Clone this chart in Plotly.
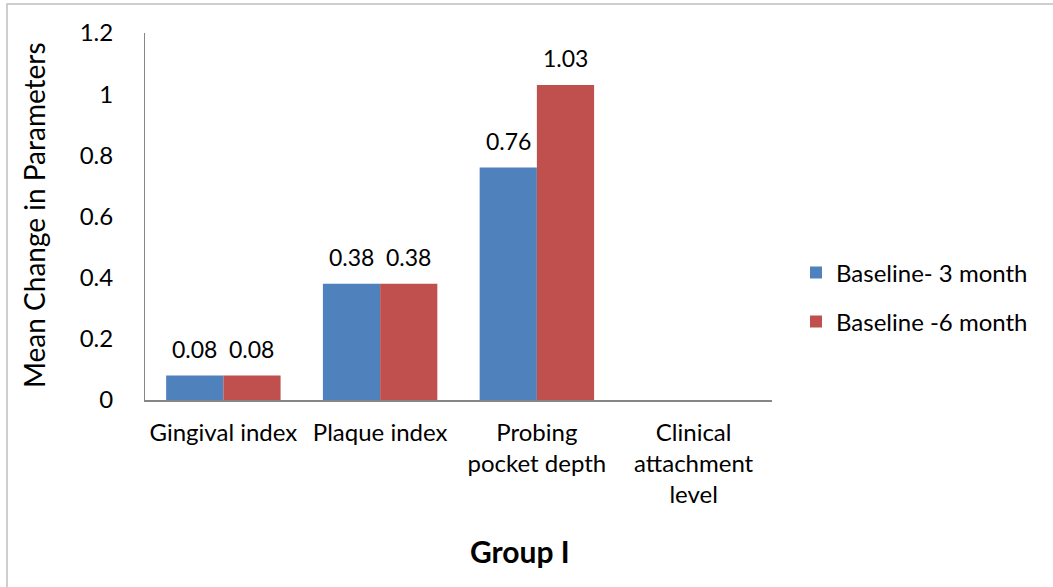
import plotly.graph_objects as go

categories = ["Gingival index", "Plaque index", "Probing<br>pocket depth", "Clinical<br>attachment<br>level"]
series_names = ["Baseline- 3 month", "Baseline -6 month"]
values_3m = [0.08, 0.38, 0.76, None]
values_6m = [0.08, 0.38, 1.03, None]
y_ticks = [0, 0.2, 0.4, 0.6, 0.8, 1, 1.2]
y_tick_labels = ["0", "0.2", "0.4", "0.6", "0.8", "1", "1.2"]
colors = ["#4F81BD", "#C0504D"]

FONT = "Lato, 'Open Sans', sans-serif"
W, H = 1053, 587
L, R, T, B = 145, 772, 33, 400
BARGAP = 0.27

def fmt(v):
    return "" if v is None else f"{v:.2f}"

fig = go.Figure()
all_vals = [values_3m, values_6m]
for i, (name, vals) in enumerate(zip(series_names, all_vals)):
    fig.add_trace(go.Bar(
        x=categories, y=vals, name=name,
        marker=dict(color=colors[i], line=dict(width=0)),
        legend="legend" if i == 0 else "legend2",
    ))

def px_x(p):
    return (p - L) / (R - L)

def px_y(p):
    return (B - p) / (B - T)

# value labels above bars (offset by half a bar width inside each group)
cat_w = (R - L) / len(categories)
bar_w = cat_w * (1 - BARGAP) / len(series_names)
annotations = []
for i, vals in enumerate(all_vals):
    shift = (i - (len(series_names) - 1) / 2) * bar_w
    for c, v in zip(categories, vals):
        if v is None:
            continue
        annotations.append(dict(text=fmt(v), x=c, y=v, xref="x", yref="y",
                                xshift=shift, yshift=11, showarrow=False,
                                xanchor="center", yanchor="bottom",
                                font=dict(size=23, color="black")))

annotations += [
    dict(text="Mean Change in Parameters", x=px_x(34), y=px_y(215), xref="paper", yref="paper",
         textangle=-90, showarrow=False, font=dict(size=28), xanchor="center", yanchor="middle"),
    dict(text="<b>Group I</b>", x=px_x(520), y=px_y(551), xref="paper", yref="paper",
         showarrow=False, font=dict(size=30), xanchor="center", yanchor="middle"),
]

fig.update_layout(
    width=W, height=H,
    margin=dict(l=L, r=W - R, t=T, b=H - B),
    paper_bgcolor="white", plot_bgcolor="white",
    font=dict(family=FONT, size=24, color="black"),
    barmode="group", bargap=BARGAP, bargroupgap=0,
    xaxis=dict(showline=True, linecolor="#868686", linewidth=2, showgrid=False,
               ticks="", tickfont=dict(size=24), ticklabelstandoff=10),
    yaxis=dict(range=[0, 1.2], tickvals=y_ticks, ticktext=y_tick_labels,
               showline=True, linecolor="#868686", linewidth=1, showgrid=False,
               ticks="", tickfont=dict(size=24), ticklabelstandoff=26, zeroline=False),
    legend=dict(x=px_x(796), y=px_y(273), xanchor="left", yanchor="middle",
                font=dict(size=24), bgcolor="rgba(0,0,0,0)"),
    legend2=dict(x=px_x(796), y=px_y(322), xanchor="left", yanchor="middle",
                 font=dict(size=24), bgcolor="rgba(0,0,0,0)"),
    showlegend=True,
    annotations=annotations,
    shapes=[
        dict(type="rect", xref="paper", yref="paper",
             x0=px_x(7), x1=px_x(1060), y0=px_y(600), y1=px_y(4),
             line=dict(color="#BFBFBF", width=1.5), fillcolor="rgba(0,0,0,0)"),
    ],
)

fig.write_html("out.html")
